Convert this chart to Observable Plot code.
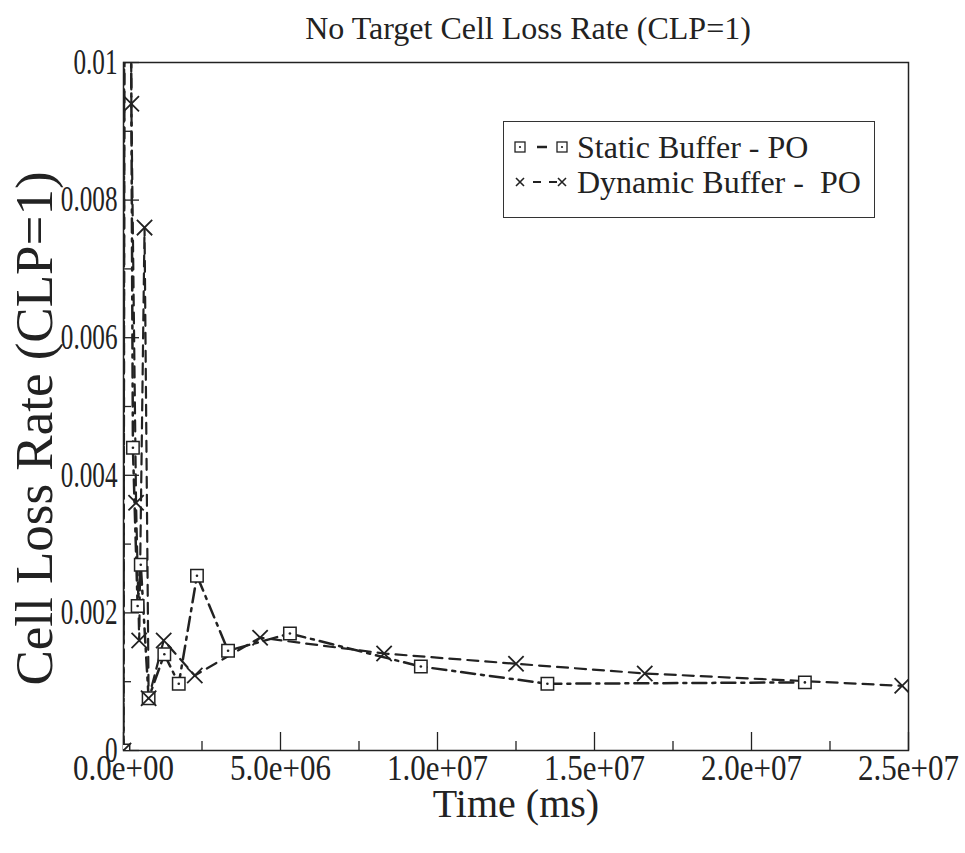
<!DOCTYPE html>
<html>
<head>
<meta charset="utf-8">
<script src="https://cdn.jsdelivr.net/npm/d3@7"></script>
<script src="https://cdn.jsdelivr.net/npm/@observablehq/plot@0.6"></script>
<style>
  body { margin: 0; background: #fff; }
  #wrap { position: relative; width: 965px; height: 853px; font-family: "Liberation Serif", "Times New Roman", Times, serif; color: #222; }
  #wrap svg text { font-family: "Liberation Serif", "Times New Roman", Times, serif; }
  #legend { position: absolute; left: 503px; top: 121px; width: 372px; height: 97px; border: 1.5px solid #333; box-sizing: border-box; background: #fff; font-size: 32px; line-height: 32px; }
  #legend .sym { position: absolute; left: 8px; }
  #legend .lab { position: absolute; left: 73px; white-space: pre; }
</style>
</head>
<body>
<div id="wrap">
  <div id="chart"></div>
  <div id="legend">
    <svg class="sym" style="top:16px" width="58" height="18"><line x1="8" y1="9" x2="50" y2="9" stroke="#222" stroke-width="2.5" stroke-dasharray="0,17,10,30"/><rect x="3" y="4" width="10" height="10" fill="#fff" stroke="#222" stroke-width="1.3"/><circle cx="8" cy="9" r="1.1" fill="#222"/><rect x="45" y="4" width="10" height="10" fill="#fff" stroke="#222" stroke-width="1.3"/><circle cx="50" cy="9" r="1.1" fill="#222"/></svg>
    <div class="lab" style="top:9px">Static Buffer - PO</div>
    <svg class="sym" style="top:51px" width="58" height="18"><line x1="8" y1="9" x2="50" y2="9" stroke="#222" stroke-width="2" stroke-dasharray="0,13,8,8,8,30"/><path d="M4,5L12,13M4,13L12,5M46,5L54,13M46,13L54,5" stroke="#222" stroke-width="1.6"/></svg>
    <div class="lab" style="top:44px">Dynamic Buffer -  PO</div>
  </div>
</div>
<script>
// ---- data ----
const staticTime = [0, 50000, 300000, 450000, 550000, 800000, 1300000, 1760000, 2340000, 3330000, 5300000, 9470000, 13500000, 21700000];
const staticRate = [0, 0.03, 0.0044, 0.0021, 0.0027, 0.00076, 0.0014, 0.00097, 0.00254, 0.00145, 0.0017, 0.00122, 0.00097, 0.00099];
const dynamicTime = [0, 100000, 250000, 400000, 500000, 670000, 800000, 1280000, 2270000, 4350000, 8300000, 12500000, 16600000, 24800000];
const dynamicRate = [0, 0.03, 0.0094, 0.0036, 0.0016, 0.0076, 0.00076, 0.0016, 0.00109, 0.00164, 0.00141, 0.00126, 0.00112, 0.00094];

const xTicks = [0, 5e6, 1e7, 1.5e7, 2e7, 2.5e7];
const xTickLabels = ["0.0e+00", "5.0e+06", "1.0e+07", "1.5e+07", "2.0e+07", "2.5e+07"];
const xMinorTicks = [2.5e6, 7.5e6, 1.25e7, 1.75e7, 2.25e7];
const yTicks = [0, 0.002, 0.004, 0.006, 0.008, 0.01];
const yTickLabels = ["0", "0.002", "0.004", "0.006", "0.008", "0.01"];
const yMinorTicks = [0.001, 0.003, 0.005, 0.007, 0.009];

const titleText = "No Target Cell Loss Rate (CLP=1)";
const xLabel = "Time (ms)";
const yLabel = "Cell Loss Rate (CLP=1)";

const staticData = staticTime.map((t, i) => ({t, r: staticRate[i]}));
const dynamicData = dynamicTime.map((t, i) => ({t, r: dynamicRate[i]}));

const W = 965, H = 853, mL = 123, mR = 57, mT = 62, mB = 103;
const fw = W - mL - mR, fh = H - mT - mB;
const ink = "#222";
const serif = "'Liberation Serif', 'Times New Roman', serif";

const chart = Plot.plot({
  width: W, height: H,
  marginLeft: mL, marginRight: mR, marginTop: mT, marginBottom: mB,
  style: {fontFamily: serif, color: ink, background: "#fff"},
  x: {domain: [0, 2.5e7]},
  y: {domain: [0, 0.01]},
  marks: [
    Plot.frame({stroke: ink, strokeWidth: 1.5}),
    Plot.axisX({ticks: xTicks, tickFormat: (d, i) => xTickLabels[i], tickSize: 0, tickPadding: 4, fontSize: 36, label: null, fontFamily: serif}),
    Plot.axisY({ticks: yTicks, tickFormat: (d, i) => yTickLabels[i], tickSize: 0, tickPadding: 6, fontSize: 35, label: null, fontFamily: serif}),
    Plot.ruleX(xTicks, {x: d => d, insetTop: fh - 18, stroke: ink, strokeWidth: 1.3}),
    Plot.ruleX(xMinorTicks, {x: d => d, insetTop: fh - 9, stroke: ink, strokeWidth: 1.3}),
    Plot.ruleY(yTicks, {y: d => d, insetRight: fw - 16, stroke: ink, strokeWidth: 1.3}),
    Plot.ruleY(yMinorTicks, {y: d => d, insetRight: fw - 8, stroke: ink, strokeWidth: 1.3}),
    Plot.line(staticData, {x: "t", y: "r", stroke: ink, strokeWidth: 2.5, strokeDasharray: "14,6,3,6", clip: true}),
    Plot.line(dynamicData, {x: "t", y: "r", stroke: ink, strokeWidth: 2.2, strokeDasharray: "11,7", clip: true}),
    Plot.dot(staticData, {x: "t", y: "r", symbol: "square", r: 7, fill: "#fff", stroke: ink, strokeWidth: 1.5, clip: true}),
    Plot.dot(staticData, {x: "t", y: "r", r: 1.3, fill: ink, stroke: null, clip: true}),
    Plot.dot(dynamicData, {x: "t", y: "r", symbol: "times", r: 7, stroke: ink, strokeWidth: 1.8, clip: true}),
    Plot.text([titleText], {frameAnchor: "top", text: d => d, textAnchor: "middle", lineAnchor: "middle", dy: -34, dx: 12, fontSize: 32, fill: ink, fontFamily: serif}),
    Plot.text([xLabel], {frameAnchor: "bottom", text: d => d, textAnchor: "middle", lineAnchor: "middle", dy: 54, fontSize: 40, fill: ink, fontFamily: serif}),
    Plot.text([yLabel], {frameAnchor: "left", text: d => d, textAnchor: "middle", lineAnchor: "middle", dx: -88, dy: 22, rotate: -90, fontSize: 53, fill: ink, fontFamily: serif})
  ]
});
document.getElementById("chart").appendChild(chart);

// condense tick labels horizontally like the narrow typeface of the original
function condense(sel, k) {
  d3.select(chart).selectAll(sel).each(function() {
    const len = this.getComputedTextLength();
    this.setAttribute("textLength", (len * k).toFixed(1));
    this.setAttribute("lengthAdjust", "spacingAndGlyphs");
  });
}
condense('g[aria-label="y-axis tick label"] text', 0.72);
condense('g[aria-label="x-axis tick label"] text', 0.86);
</script>
</body>
</html>
